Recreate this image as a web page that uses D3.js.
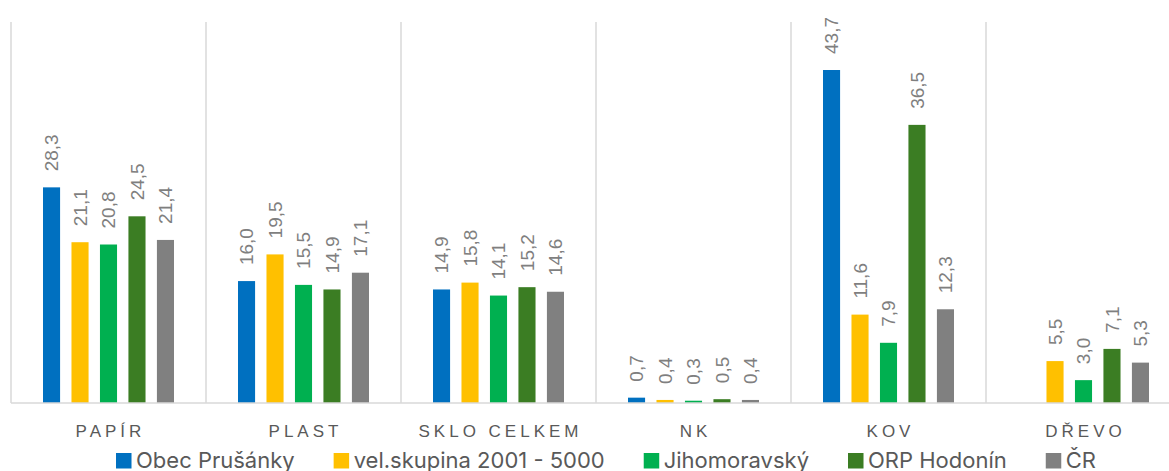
<!DOCTYPE html>
<html>
<head>
<meta charset="utf-8">
<script src="https://cdn.jsdelivr.net/npm/d3@7"></script>
<style>
  body { margin: 0; background: #fff; }
</style>
</head>
<body>
<div class="canvas"></div>
<script>
// data
const categories = ['PAPÍR', 'PLAST', 'SKLO CELKEM', 'NK', 'KOV', 'DŘEVO'];
const seriesNames = ['Obec Prušánky', 'vel.skupina 2001 - 5000', 'Jihomoravský', 'ORP Hodonín', 'ČR'];
const obec = [28.3, 16.0, 14.9, 0.7, 43.7, null];
const velSkupina = [21.1, 19.5, 15.8, 0.4, 11.6, 5.5];
const jihomoravsky = [20.8, 15.5, 14.1, 0.3, 7.9, 3.0];
const orpHodonin = [24.5, 14.9, 15.2, 0.5, 36.5, 7.1];
const cr = [21.4, 17.1, 14.6, 0.4, 12.3, 5.3];
const seriesValues = [obec, velSkupina, jihomoravsky, orpHodonin, cr];
const colors = ['#0070C0', '#FFC000', '#00B050', '#3B7D23', '#808080'];

const width = 1169, height = 471;
const plotLeft = 11, plotRight = 1181, plotTop = 22, plotBottom = 403;

// create svg
const svg = d3.select('.canvas')
  .append('svg')
    .attr('width', width)
    .attr('height', height);

// scales
const x0 = d3.scaleBand()
  .domain(categories)
  .range([plotLeft, plotRight])
  .padding(0);

const x1 = d3.scaleBand()
  .domain(seriesNames)
  .range([32, x0.bandwidth() - 32])
  .paddingInner(0.4);

const y = d3.scaleLinear()
  .domain([0, 50])
  .range([plotBottom, plotTop]);

// vertical separators between categories
const seps = categories.map(c => x0(c)).concat([plotRight]);
svg.selectAll('line.sep')
  .data(seps)
  .enter()
  .append('line')
    .attr('class', 'sep')
    .attr('x1', d => d).attr('x2', d => d)
    .attr('y1', y(50)).attr('y2', y(0))
    .attr('stroke', '#d9d9d9')
    .attr('stroke-width', 1.5);

// flatten data
const rows = [];
categories.forEach((c, i) => {
  seriesNames.forEach((s, j) => {
    const v = seriesValues[j][i];
    if (v != null) rows.push({ cat: c, series: s, value: v, color: colors[j] });
  });
});

// bars
svg.selectAll('rect.bar')
  .data(rows)
  .enter()
  .append('rect')
    .attr('class', 'bar')
    .attr('x', d => x0(d.cat) + x1(d.series))
    .attr('y', d => y(d.value))
    .attr('width', x1.bandwidth())
    .attr('height', d => y(0) - y(d.value))
    .attr('fill', d => d.color);

// value labels, rotated
const fmt = v => d3.format('.1f')(v).replace('.', ',');
svg.selectAll('text.val')
  .data(rows)
  .enter()
  .append('text')
    .attr('class', 'val')
    .attr('transform', d => {
      const cx = x0(d.cat) + x1(d.series) + x1.bandwidth() / 2;
      return `translate(${cx},${y(d.value) - 16}) rotate(-90)`;
    })
    .attr('dy', '0.35em')
    .attr('font-family', 'Liberation Sans, Arial, sans-serif')
    .attr('font-size', '19px')
    .attr('fill', '#7f7f7f')
    .text(d => fmt(d.value));

// baseline axis
svg.append('line')
  .attr('x1', plotLeft).attr('x2', plotRight)
  .attr('y1', y(0)).attr('y2', y(0))
  .attr('stroke', '#d9d9d9')
  .attr('stroke-width', 1.5);

// category labels
svg.selectAll('text.cat')
  .data(categories)
  .enter()
  .append('text')
    .attr('class', 'cat')
    .attr('x', d => x0(d) + x0.bandwidth() / 2 + 2)
    .attr('y', 437)
    .attr('text-anchor', 'middle')
    .attr('font-family', 'Liberation Sans, Arial, sans-serif')
    .attr('font-size', '17px')
    .attr('letter-spacing', '4px')
    .attr('fill', '#595959')
    .text(d => d);

// legend
const legend = svg.append('g');
const gap = 39;
let lx = 0;
seriesNames.forEach((s, j) => {
  const g = legend.append('g').attr('transform', `translate(${lx},0)`);
  g.append('rect')
    .attr('x', 0).attr('y', 453)
    .attr('width', 15.5).attr('height', 15.5)
    .attr('fill', colors[j]);
  const t = g.append('text')
    .attr('x', 20).attr('y', 468)
    .attr('font-family', 'Inter, sans-serif')
    .attr('font-size', '22px')
    .attr('fill', '#595959')
    .text(s);
  lx += 20 + t.node().getComputedTextLength() + gap;
});
const legendW = lx - gap;
legend.attr('transform', `translate(${606 - legendW / 2},0)`);
</script>
</body>
</html>
